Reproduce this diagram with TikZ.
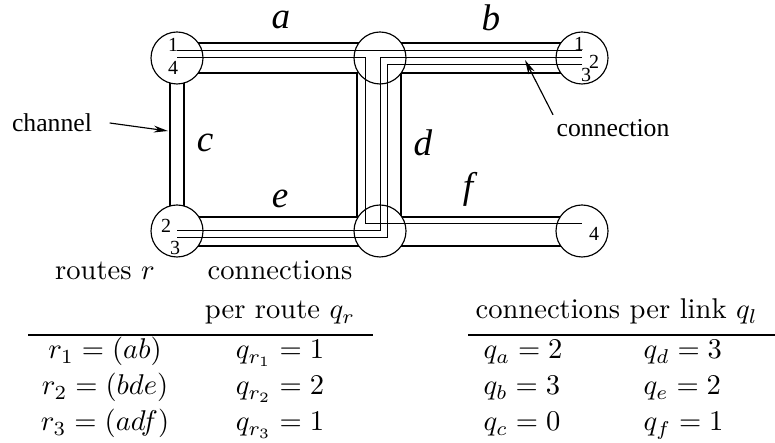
\documentclass[tikz,border=0pt]{standalone}
\usepackage{fontspec}
\newfontfamily\figfont{Liberation Serif}
\usetikzlibrary{calc,arrows.meta}
\tikzset{
  router/.style={circle,draw,fill=white,line width=0.4pt,minimum size=18.2pt,inner sep=0pt},
  wall/.style={line width=0.55pt},
  conn/.style={line width=0.35pt},
  link/.style={font=\figfont\itshape\fontsize{13}{15}\selectfont},
  port/.style={font=\figfont\fontsize{7}{8}\selectfont,inner sep=0pt},
  note/.style={font=\figfont\fontsize{9}{10}\selectfont,inner sep=0pt},
  tab/.style={anchor=base,inner sep=0pt},
}

\begin{document}
\begin{tikzpicture}[x=0.35pt,y=-0.35pt,>={Stealth[length=5pt,width=2.4pt]}]
  \useasboundingbox (0,0) rectangle (775,443);
  % switches
  \coordinate (A) at (177,58);
  \coordinate (B) at (380,58);
  \coordinate (C) at (582,58);
  \coordinate (D) at (177,231);
  \coordinate (E) at (380,231);
  \coordinate (F) at (582,231);
  % channels
  \draw[wall] ($(A)+(0,-15)$) -- ($(C)+(0,-15)$);
  \draw[wall] ($(A)+(0,15)$) -- ($(B)+(-23,15)$) -- ($(E)+(-23,-14)$) -- ($(D)+(0,-14)$);
  \draw[wall] ($(C)+(0,15)$) -- ($(B)+(21,15)$) -- ($(E)+(21,-14)$) -- ($(F)+(0,-14)$);
  \draw[wall] ($(D)+(0,15)$) -- ($(F)+(0,15)$);
  \draw[wall] ($(A)+(-7,0)$) -- ($(D)+(-7,0)$);
  \draw[wall] ($(A)+(7,0)$) -- ($(D)+(7,0)$);
  \foreach \s in {A,B,C,D,E,F}
    \node[router] (sw\s) at (\s) {};
  % connections
  \draw[conn] ($(A)+(0,-7)$) -- ($(C)+(0,-7)$);
  \draw[conn] (A) -- ($(B)+(-15,0)$) -- ($(E)+(-15,-7)$) -- ($(F)+(0,-7)$);
  \draw[conn] (C) -- (B) -- (E) -- (D);
  \draw[conn] ($(C)+(0,7)$) -- ($(B)+(7,7)$) -- ($(E)+(7,7)$) -- ($(D)+(0,7)$);
  \node[port] (pA1) at ($(A)+(-4,-13)$) {1};
  \node[port] (pA4) at ($(A)+(-4,10)$) {4};
  \node[port] (pC1) at ($(C)+(-3,-14)$) {1};
  \node[port] (pC2) at ($(C)+(12,4)$) {2};
  \node[port] (pC3) at ($(C)+(4,17)$) {3};
  \node[port] (pD2) at ($(D)+(-11,-5)$) {2};
  \node[port] (pD3) at ($(D)+(-2,17)$) {3};
  \node[port] (pF4) at ($(F)+(12,3)$) {4};
  % link names
  \node[link] (la) at (281,20) {a};
  \node[link] (lb) at (491,18) {b};
  \node[link] (lc) at (205,143) {c};
  \node[link] (ld) at (423,143) {d};
  \node[link] (le) at (280,199) {e};
  \node[link] (lf) at (468,189) {f};
  \node[note] (channel) at (52,123) {channel};
  \coordinate (chanTip) at (168,131);
  \draw[->] ([xshift=6]channel.east) -- (chanTip);
  \node[note] (connection) at (613,128) {connection};
  \coordinate (connTip) at (525,60);
  \draw[->] ([shift={(-3,-4)}]connection.north west) -- (connTip);
  % tables
  \node[tab] (hRoute) at (105,280) {routes $r$};
  \node[tab] (hConn) at (280,280) {connections};
  \node[tab] (hPer) at (280,319) {per route $q_r$};
  \draw[line width=0.55pt] (28,335) -- (373,335);
  \node[tab] (r1) at (105,359) {$r_1=(ab)$};
  \node[tab] (r2) at (105,395) {$r_2=(bde)$};
  \node[tab] (r3) at (105,431) {$r_3=(adf)$};
  \node[tab] (q1) at (280,359) {$q_{r_1}=1$};
  \node[tab] (q2) at (280,395) {$q_{r_2}=2$};
  \node[tab] (q3) at (280,431) {$q_{r_3}=1$};
  \node[tab,anchor=base west] (hLink) at (475,319) {connections per link $q_l$};
  \draw[line width=0.55pt] (468,335) -- (775,335);
  \node[tab,anchor=base west] (qa) at (483,359) {$q_a=2$};
  \node[tab,anchor=base west] (qb) at (483,395) {$q_b=3$};
  \node[tab,anchor=base west] (qc) at (483,431) {$q_c=0$};
  \node[tab,anchor=base west] (qd) at (643,359) {$q_d=3$};
  \node[tab,anchor=base west] (qe) at (643,395) {$q_e=2$};
  \node[tab,anchor=base west] (qf) at (643,431) {$q_f=1$};
\end{tikzpicture}
\end{document}
